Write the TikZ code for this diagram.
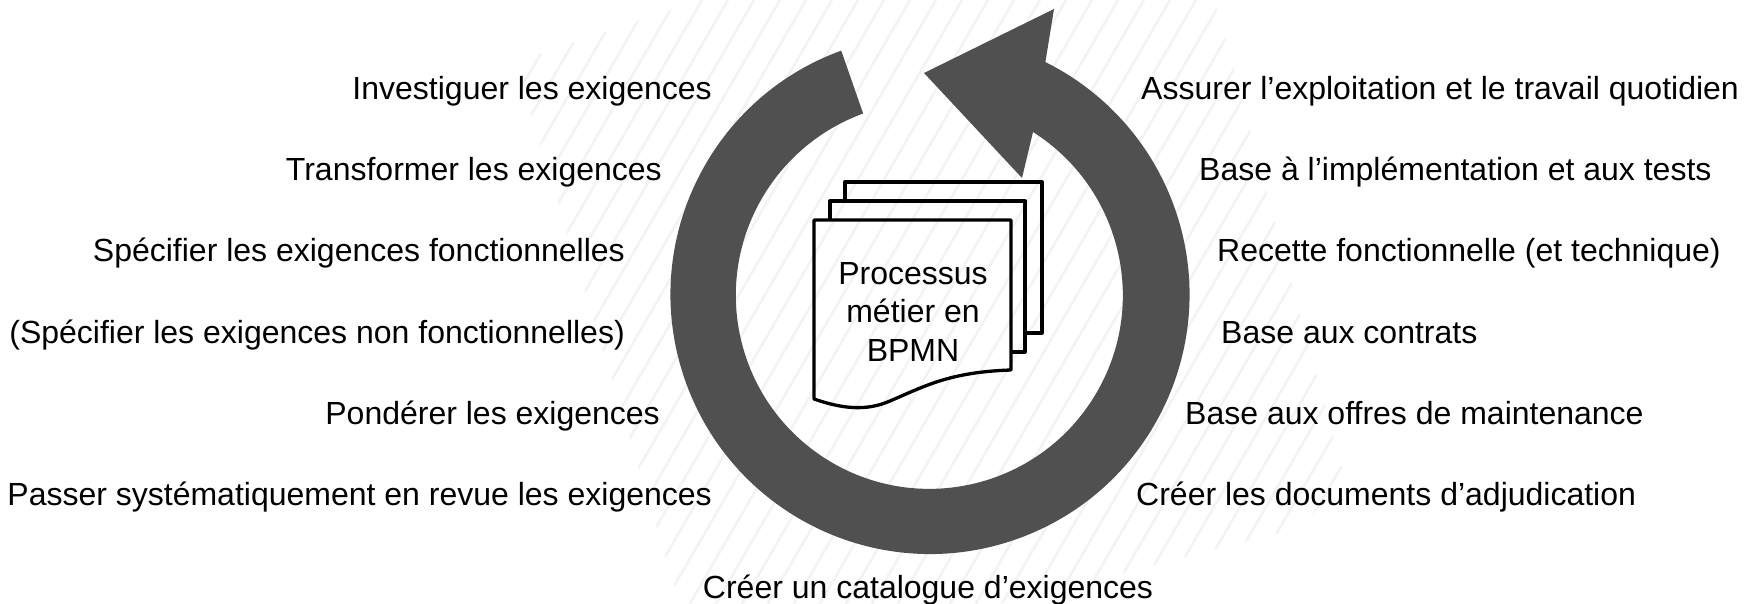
\documentclass[tikz,border=0pt]{standalone}
\usepackage{fontspec}
\setmainfont{Liberation Sans}
\definecolor{ringgray}{HTML}{505050}
\definecolor{hatchgray}{HTML}{F3F3F3}
\tikzset{
  leftlabel/.style={anchor=base east,inner sep=0pt,font=\fontsize{32}{38}\selectfont},
  rightlabel/.style={anchor=base west,inner sep=0pt,font=\fontsize{32}{38}\selectfont},
  pageline/.style={draw=black,line width=3.3pt,line join=round}
}
\begin{document}
\begin{tikzpicture}[x=1pt,y=1pt]
             \useasboundingbox (0,0) rectangle (1754,604);

             \begin{scope}
             \clip (515,542) -- (700,604) -- (1215,604) -- (1345,124) -- (1300,76) -- (1000,0) -- (680,0) -- cycle;
             \foreach \k in {18,...,64} {
                 \draw[hatchgray,line width=2.6pt] ({26*\k},604) -- ({26*\k-.58*604},0);
             }
             \end{scope}

             \coordinate (ringcenter) at (930,309.5);
             \fill[ringgray] (ringcenter) ++(110:259.5) arc[start angle=110,end angle=423.6,radius=259.5]
                 -- (1054,595) -- (924,531) -- (1022,426) -- (1033,472)
                 arc[start angle=57.6,end angle=-250,radius=193.5] -- cycle;

             \draw[pageline] (845,403) -- (845,422) -- (1042,422) -- (1042,271) -- (1025,271);
             \draw[pageline] (830,384) -- (830,403) -- (1025,403) -- (1025,252) -- (1011,252);
             \draw[pageline] (814,384) -- (1011,384) -- (1011,234) .. controls (950,232) and (925,218) .. (890,203)
                 .. controls (865,192) and (840,196) .. (814,205) -- cycle;
             \node[align=center,inner sep=0pt,font=\fontsize{32}{38.5}\selectfont] (process) at (913,292.5) {Processus\\métier en\\BPMN};

             \node[leftlabel] (investiguer) at (712,504) {Investiguer les exigences};
             \node[leftlabel] (transformer) at (662,423) {Transformer les exigences};
             \node[leftlabel] (fonctionnelles) at (625,342) {Spécifier les exigences fonctionnelles};
             \node[leftlabel] (nonfonctionnelles) at (625,260) {(Spécifier les exigences non fonctionnelles)};
             \node[leftlabel] (ponderer) at (660,179) {Pondérer les exigences};
             \node[leftlabel] (revue) at (712,98) {Passer systématiquement en revue les exigences};

             \node[rightlabel] (exploitation) at (1141,504) {Assurer l’exploitation et le travail quotidien};
             \node[rightlabel] (implementation) at (1199,423) {Base à l’implémentation et aux tests};
             \node[rightlabel] (recette) at (1217,342) {Recette fonctionnelle (et technique)};
             \node[rightlabel] (contrats) at (1221,260) {Base aux contrats};
             \node[rightlabel] (offres) at (1185,179) {Base aux offres de maintenance};
             \node[rightlabel] (adjudication) at (1136,98) {Créer les documents d’adjudication};

             \node[anchor=base,inner sep=0pt,font=\fontsize{32}{38}\selectfont] (catalogue) at (928,5) {Créer un catalogue d’exigences};
\end{tikzpicture}
\end{document}
